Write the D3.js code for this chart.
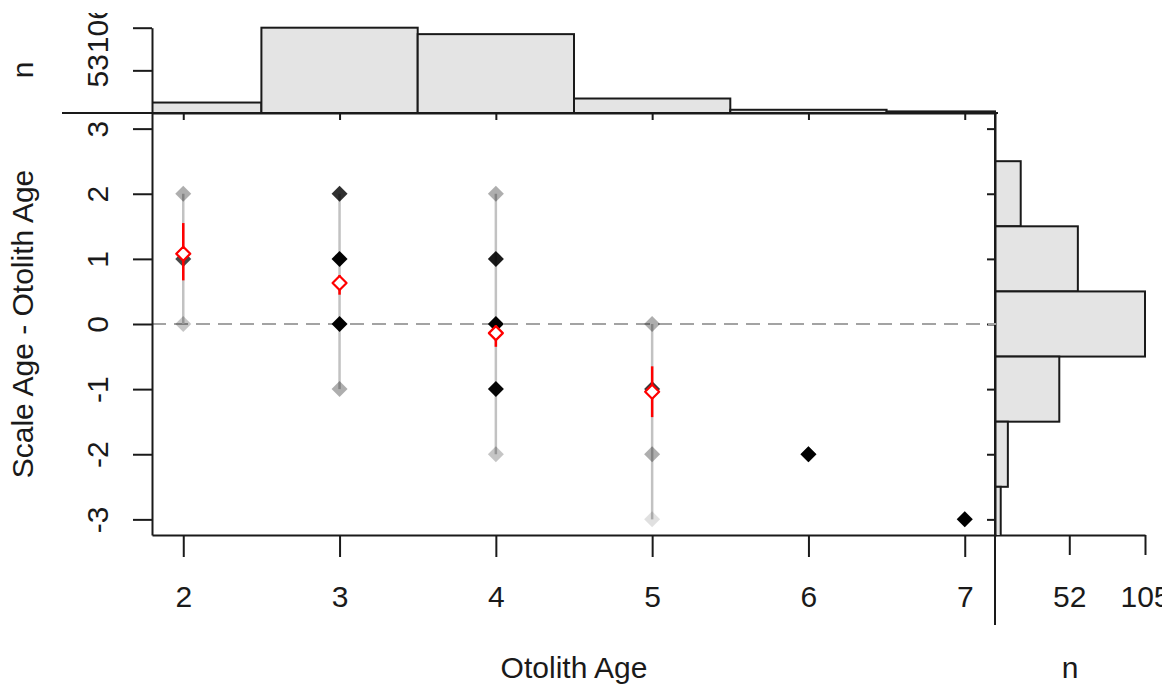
<!DOCTYPE html>
<html>
<head>
<meta charset="utf-8">
<script src="https://cdn.jsdelivr.net/npm/d3@7"></script>
<style>
  body { margin: 0; background: #fff; }
  text { font-family: "Liberation Sans", Arial, sans-serif; font-size: 30px; fill: #1a1a1a; }
</style>
</head>
<body>
<svg id="chart" width="1172" height="685"></svg>
<script>
// Otolith age frequencies (top histogram)
const otolithAges = [2, 3, 4, 5, 6, 7];
const otolithCounts = [13, 106, 98, 18, 4, 2];
// Scale - otolith age difference frequencies (right histogram)
const diffValues = [2, 1, 0, -1, -2, -3];
const diffCounts = [18, 58, 105, 45, 9, 4];
// Axis ticks
const yTickValues = [-3, -2, -1, 0, 1, 2, 3];
const topTicks = [53, 106];
const rightTicks = [52, 105];
// Individual observations: otolith age, age difference, number of fish
const ptAge  = [2, 2, 2, 3, 3, 3, 3, 4, 4, 4, 4, 4, 5, 5, 5, 5, 6, 7];
const ptDiff = [2, 1, 0, 2, 1, 0, -1, 2, 1, 0, -1, -2, 0, -1, -2, -3, -2, -3];
const ptN    = [3, 10, 2, 13, 40, 47, 3, 3, 18, 45, 30, 2, 3, 12, 3, 1, 4, 2];
// Mean difference by otolith age with 95% CI (null = too few fish for a CI)
const meanAge  = [2, 3, 4, 5, 6, 7];
const meanDiff = [1.08, 0.63, -0.14, -1.04, -2, -3];
const ciLow    = [0.67, 0.45, -0.35, -1.43, null, null];
const ciHigh   = [1.55, 0.75, -0.02, -0.65, null, null];

const svg = d3.select("#chart");
const L = 152, R = 996, T = 113, B = 535;

const x = d3.scaleLinear([1.8, 7.2], [L, R]);
const y = d3.scaleLinear([-3.24, 3.24], [B, T]);
const yTop = d3.scaleLinear([0, 106], [T, 27.7]);
const xRight = d3.scaleLinear([0, 105], [995, 1145]);
const fmt = d => String(d);

const ink = "#1a1a1a";
const defs = svg.append("defs");
defs.append("clipPath").attr("id", "clipTop")
  .append("rect").attr("x", L).attr("y", 0).attr("width", R - L).attr("height", T + 1);
defs.append("clipPath").attr("id", "clipRight")
  .append("rect").attr("x", 990).attr("y", T).attr("width", 200).attr("height", B - T);
defs.append("clipPath").attr("id", "clipPage")
  .append("rect").attr("x", 0).attr("y", 13).attr("width", 1162).attr("height", 685);

function styleAxis(g, w) {
  g.selectAll("path, line").attr("stroke", ink).attr("stroke-width", w || 2);
  g.selectAll("text").attr("fill", ink).attr("font-size", 30)
    .attr("font-family", '"Liberation Sans", Arial, sans-serif');
}

// ---- top histogram: otolith ages ----
svg.append("g").attr("clip-path", "url(#clipTop)")
  .selectAll("rect").data(otolithAges).join("rect")
  .attr("x", d => x(d - 0.5))
  .attr("width", d => x(d + 0.5) - x(d - 0.5))
  .attr("y", (d, i) => yTop(otolithCounts[i]))
  .attr("height", (d, i) => T - yTop(otolithCounts[i]))
  .attr("fill", "#e4e4e4").attr("stroke", ink).attr("stroke-width", 2);

svg.append("line").attr("x1", 62).attr("x2", 998).attr("y1", T).attr("y2", T)
  .attr("stroke", ink).attr("stroke-width", 2);

const topX = svg.append("g").attr("transform", `translate(0,${T})`)
  .call(d3.axisBottom(x).tickValues(otolithAges).tickSize(7).tickSizeOuter(0).tickFormat(""));
styleAxis(topX);

const page = svg.append("g").attr("clip-path", "url(#clipPage)");

const topY = page.append("g").attr("transform", `translate(${L},0)`)
  .call(d3.axisLeft(yTop).tickValues(topTicks).tickSize(19).tickSizeOuter(0).tickFormat(fmt));
styleAxis(topY);
topY.selectAll(".tick text")
  .attr("x", null).attr("dy", null).attr("text-anchor", "middle")
  .attr("transform", "translate(-44,0) rotate(-90)");

page.append("text").attr("text-anchor", "middle")
  .attr("transform", "translate(33,70) rotate(-90)").text("n");

// ---- right histogram: age differences ----
svg.append("g").attr("clip-path", "url(#clipRight)")
  .selectAll("rect").data(diffValues).join("rect")
  .attr("x", xRight(0))
  .attr("y", d => y(d + 0.5))
  .attr("height", d => y(d - 0.5) - y(d + 0.5))
  .attr("width", (d, i) => xRight(diffCounts[i]) - xRight(0))
  .attr("fill", "#e4e4e4").attr("stroke", ink).attr("stroke-width", 2);

svg.append("line").attr("x1", 995).attr("x2", 995).attr("y1", T).attr("y2", 625)
  .attr("stroke", ink).attr("stroke-width", 2);

const rightY = svg.append("g").attr("transform", "translate(995,0)")
  .call(d3.axisLeft(y).tickValues(yTickValues).tickSize(8).tickSizeOuter(0).tickFormat(""));
styleAxis(rightY);

const rightX = page.append("g").attr("transform", `translate(0,${B})`)
  .call(d3.axisBottom(xRight).tickValues(rightTicks).tickSize(20).tickSizeOuter(0).tickFormat(fmt));
styleAxis(rightX);
rightX.selectAll(".tick text").attr("y", 72).attr("dy", null);

svg.append("text").attr("x", 1070).attr("y", 678).attr("text-anchor", "middle").text("n");

// ---- main panel: age-bias difference plot ----
svg.append("line").attr("x1", L).attr("x2", R).attr("y1", y(0)).attr("y2", y(0))
  .attr("stroke", "#a3a3a3").attr("stroke-width", 2).attr("stroke-dasharray", "14,8");

// range of differences at each otolith age
const ranges = d3.groups(ptAge.map((a, i) => ({ a, d: ptDiff[i] })), p => p.a)
  .map(([a, ps]) => ({ a, lo: d3.min(ps, p => p.d), hi: d3.max(ps, p => p.d) }))
  .filter(r => r.hi > r.lo);
svg.append("g").selectAll("line").data(ranges).join("line")
  .attr("x1", r => x(r.a)).attr("x2", r => x(r.a))
  .attr("y1", r => y(r.hi)).attr("y2", r => y(r.lo))
  .attr("stroke", "#c2c2c2").attr("stroke-width", 2.5);

// observations, semi-transparent so darker means more fish
const alpha = 0.12;
const diamond = s => `M0,${-s}L${s},0L0,${s}L${-s},0Z`;
svg.append("g").selectAll("path").data(ptAge).join("path")
  .attr("d", diamond(8))
  .attr("transform", (a, i) => `translate(${x(a)},${y(ptDiff[i])})`)
  .attr("fill", "#000")
  .attr("fill-opacity", (a, i) => 1 - Math.pow(1 - alpha, ptN[i]));

// confidence intervals
const withCI = meanAge.map((a, i) => i).filter(i => ciLow[i] !== null);
svg.append("g").selectAll("line").data(withCI).join("line")
  .attr("x1", i => x(meanAge[i])).attr("x2", i => x(meanAge[i]))
  .attr("y1", i => y(ciHigh[i])).attr("y2", i => y(ciLow[i]))
  .attr("stroke", "#ff0000").attr("stroke-width", 2.5);

// means
svg.append("g").selectAll("path").data(meanAge.map((a, i) => i)).join("path")
  .attr("transform", i => `translate(${x(meanAge[i])},${y(meanDiff[i])})`)
  .attr("d", i => ciLow[i] === null ? diamond(8) : diamond(7))
  .attr("fill", i => ciLow[i] === null ? "#000" : "#fff")
  .attr("stroke", i => ciLow[i] === null ? "none" : "#ff0000")
  .attr("stroke-width", 2.2).attr("stroke-linejoin", "round");

// main axes
const xAxis = svg.append("g").attr("transform", `translate(0,${B})`)
  .call(d3.axisBottom(x).tickValues(otolithAges).tickSize(22).tickSizeOuter(0).tickFormat(fmt));
styleAxis(xAxis);
xAxis.selectAll(".tick text").attr("y", 72).attr("dy", null);

const yAxis = svg.append("g").attr("transform", `translate(${L},0)`)
  .call(d3.axisLeft(y).tickValues(yTickValues).tickSize(19).tickSizeOuter(0).tickFormat(fmt));
styleAxis(yAxis);
yAxis.selectAll(".tick text")
  .attr("x", null).attr("dy", null).attr("text-anchor", "middle")
  .attr("transform", "translate(-44,0) rotate(-90)");

svg.append("text").attr("x", (L + R) / 2).attr("y", 678).attr("text-anchor", "middle")
  .text("Otolith Age");
svg.append("text").attr("text-anchor", "middle")
  .attr("transform", `translate(33,${(T + B) / 2}) rotate(-90)`)
  .text("Scale Age - Otolith Age");
</script>
</body>
</html>
